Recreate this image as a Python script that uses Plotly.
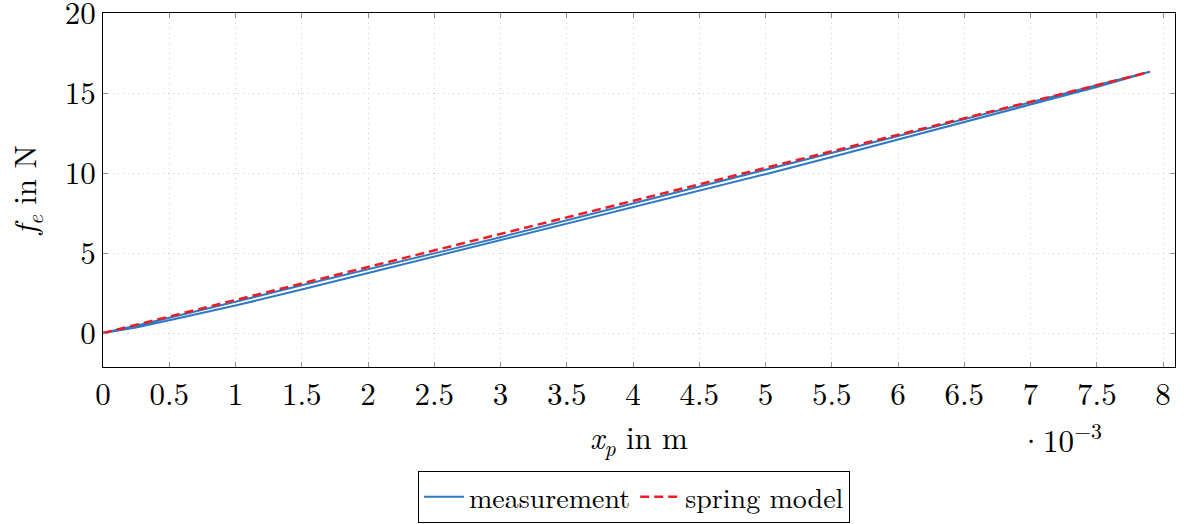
import plotly.graph_objects as go

# measurement: loading branch then unloading branch (x in m, force in N)
meas_x_mm = [0, 0.25, 0.5, 0.75, 1.0, 1.5, 2.0, 2.5, 3.0, 3.5, 4.0, 4.5, 5.0, 5.5, 6.0, 6.5, 7.0, 7.5, 7.9,
             7.9, 7.5, 7.0, 6.5, 6.0, 5.5, 5.0, 4.5, 4.0, 3.5, 3.0, 2.5, 2.0, 1.5, 1.0, 0.5, 0.25, 0.0]
meas_f = [0.0, 0.35, 0.8, 1.25, 1.72, 2.72, 3.75, 4.78, 5.8, 6.82, 7.84, 8.88, 9.93, 11.0, 12.08, 13.16, 14.28, 15.38, 16.3,
          16.33, 15.48, 14.42, 13.37, 12.32, 11.27, 10.22, 9.14, 8.08, 7.02, 5.99, 4.98, 3.99, 2.99, 1.96, 0.96, 0.46, 0.02]

spring_x_mm = [0, 0.5, 1.0, 1.5, 2.0, 2.5, 3.0, 3.5, 4.0, 4.5, 5.0, 5.5, 6.0, 6.5, 7.0, 7.5, 7.9]
spring_f = [0.0, 1.03, 2.07, 3.10, 4.13, 5.16, 6.20, 7.23, 8.26, 9.29, 10.33, 11.36, 12.39, 13.42, 14.46, 15.49, 16.32]

x_tick_vals_mm = [0, 0.5, 1, 1.5, 2, 2.5, 3, 3.5, 4, 4.5, 5, 5.5, 6, 6.5, 7, 7.5, 8]
x_tick_text = ["0", "0.5", "1", "1.5", "2", "2.5", "3", "3.5", "4", "4.5", "5", "5.5", "6", "6.5", "7", "7.5", "8"]
y_tick_vals = [0, 5, 10, 15, 20]

meas_x = [v * 1e-3 for v in meas_x_mm]
spring_x = [v * 1e-3 for v in spring_x_mm]
x_tick_vals = [v * 1e-3 for v in x_tick_vals_mm]

FONT = "Latin Modern Roman, CMU Serif, Liberation Serif, serif"
FS = 31
BLUE = "#2f78c2"
RED = "#ee1c25"

fig = go.Figure()
fig.add_trace(go.Scatter(x=meas_x, y=meas_f, mode="lines", name="measurement",
                         line=dict(color=BLUE, width=2)))
fig.add_trace(go.Scatter(x=spring_x, y=spring_f, mode="lines", name="spring model",
                         line=dict(color=RED, width=2.5, dash="9px,5px")))

axis_common = dict(showline=True, linecolor="black", linewidth=1, mirror="allticks",
                   ticks="inside", ticklen=5, tickcolor="#909090",
                   showgrid=True, gridcolor="#d2d2d2", griddash="1px,4px", gridwidth=1,
                   zeroline=False, ticklabeloverflow="allow",
                   tickfont=dict(family=FONT, size=FS, color="black"))

fig.update_xaxes(range=[0, 8.09e-3], tickmode="array", tickvals=x_tick_vals, ticktext=x_tick_text,
                 automargin="bottom",
                 title=dict(text="<i>x<sub>p</sub></i> in m", font=dict(family=FONT, size=FS, color="black"),
                            standoff=2),
                 **axis_common)
fig.update_yaxes(range=[-2.12, 20.0], tickmode="array", tickvals=y_tick_vals,
                 automargin="left",
                 title=dict(text="<i>f<sub>e</sub></i> in N", font=dict(family=FONT, size=FS, color="black"),
                            standoff=18),
                 **axis_common)

fig.add_annotation(text="·10<sup>−3</sup>", xref="paper", yref="paper",
                   x=0.893, y=-0.2, yanchor="middle", xanchor="center", showarrow=False,
                   font=dict(family=FONT, size=FS, color="black"))

fig.update_layout(
    width=1188, height=524,
    margin=dict(l=103, r=13, t=13, b=157),
    plot_bgcolor="white", paper_bgcolor="white",
    showlegend=True,
    legend=dict(orientation="h", xref="container", yref="container",
                x=634 / 1188, xanchor="center", y=1 - 471 / 524, yanchor="top",
                bordercolor="black", borderwidth=1, bgcolor="white",
                font=dict(family=FONT, size=28, color="black"),
                itemwidth=40, tracegroupgap=0),
)

fig.write_html("out.html")
